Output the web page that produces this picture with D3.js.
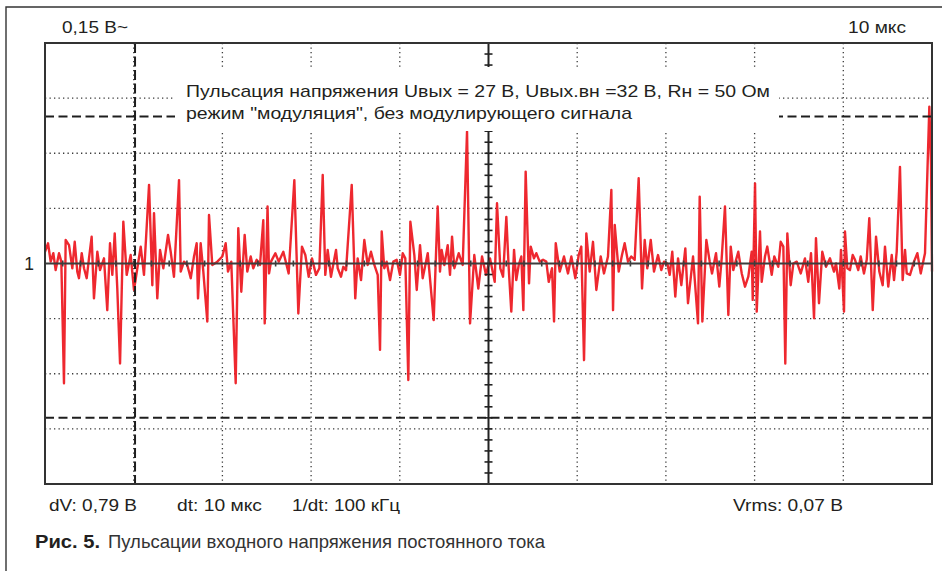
<!DOCTYPE html>
<html><head><meta charset="utf-8">
<script src="https://cdn.jsdelivr.net/npm/d3@7"></script>
<style>
body{margin:0;background:#fff}
svg{display:block}
text{font-family:"Liberation Sans",Arial,sans-serif;fill:#231f20}
</style>
</head><body>
<svg id="chart" width="942" height="571"></svg>
<script>
// ---- data ----
const timeUs = [
0,0.34,0.64,0.94,1.2,1.58,1.84,2.14,2.33,2.71,
3.08,3.35,3.64,3.83,4.14,4.4,4.7,4.96,5.26,5.52,
5.9,6.2,6.65,7.02,7.33,7.59,7.86,8.15,8.46,8.83,
9.21,9.66,10.03,10.41,10.79,11.16,11.73,12.1,12.29,12.66,
12.97,13.34,13.87,14.17,14.54,15.11,15.3,15.67,16.04,16.43,
16.8,17.1,17.25,17.55,17.85,18.3,18.49,18.86,19.43,19.99,
20.37,20.63,21.0,21.5,21.79,22.13,22.51,22.81,23.19,23.48,
23.87,24.24,24.61,24.77,25.09,25.26,25.48,25.97,26.35,26.87,
27.47,28.11,28.56,28.97,29.35,29.73,30.1,30.55,30.93,31.31,
31.6,31.87,32.24,32.81,33.0,33.37,33.63,33.94,34.58,34.98,
35.25,35.63,36.0,36.38,36.75,37.13,37.51,37.77,37.96,38.25,
38.52,38.9,39.27,39.65,40.02,40.33,40.62,40.96,41.19,41.64,
41.91,42.28,42.58,43.15,43.82,44.27,44.53,44.72,45.02,45.4,
45.66,45.89,46.15,46.64,47.09,47.58,47.92,48.4,48.85,49.27,
49.72,50.17,50.7,50.96,51.33,51.64,52.01,52.28,52.57,52.88,
53.13,53.41,53.7,53.93,54.19,54.57,54.76,55.13,55.39,55.77,
56.15,56.52,56.79,57.16,57.39,57.58,58.03,58.51,58.96,59.34,
59.79,60.17,60.46,60.77,61.03,61.41,61.78,62.16,62.65,63.02,
63.47,63.85,64.04,64.23,64.68,65.05,65.35,65.73,66.1,66.48,
66.93,67.31,67.61,67.9,68.29,68.66,69.11,69.48,69.79,70.16,
70.43,70.72,71.06,71.37,71.74,72.19,72.49,73.06,73.62,73.81,
74.11,74.56,74.94,75.2,75.65,76.02,76.29,76.66,77.04,77.31,
77.6,78.16,78.55,78.92,79.29,79.67,79.79,80.05,80.24,80.61,
80.8,81.17,81.43,81.93,82.22,82.67,82.94,83.24,83.46,83.69,
84.07,84.37,84.75,85.2,85.68,86.05,86.36,86.7,86.92,87.26,
87.63,88.05,88.5,88.95,89.18,89.55,89.74,90.08,90.19,90.45,
90.75,91.06,91.32,91.69,91.96,92.33,92.64,92.93,93.32,93.69,
94.06,94.44,94.7,95.07,95.46,95.72,96.02,96.39,96.69,96.96,
97.15,97.52,97.97,98.35,98.73,99.21,99.7,99.89,100
];
const rippleV = [
0.032,0.055,0.005,0.028,-0.018,0.028,0.005,-0.326,0.064,0.050,
-0.013,0.059,-0.022,-0.040,0.028,-0.013,-0.040,0.014,0.073,-0.095,
0.032,-0.018,0.014,-0.127,0.055,-0.031,0.082,-0.068,-0.272,0.114,
-0.031,0.023,-0.072,-0.013,0.046,-0.031,0.214,-0.059,0.137,-0.095,
0.037,-0.013,0.078,0.032,-0.036,0.227,-0.022,0.005,-0.004,-0.040,
0.019,0.055,-0.095,0.055,-0.022,-0.158,0.132,-0.004,0.005,0.019,
0.055,-0.022,0.005,-0.326,0.096,-0.077,0.078,-0.022,0.019,-0.013,
0.010,-0.004,0.118,-0.163,0.155,-0.027,0.005,0.028,0.005,0.032,
-0.027,0.227,-0.136,0.046,0.023,-0.036,0.014,-0.031,-0.013,0.241,
-0.031,0.037,-0.036,0.037,-0.013,-0.036,-0.009,-0.018,0.214,-0.095,
0.014,-0.045,0.064,-0.004,0.032,-0.004,-0.031,-0.235,0.087,-0.013,
0.005,-0.045,0.005,0.010,-0.031,0.028,0.014,-0.317,0.114,0.023,
-0.072,0.050,-0.040,0.028,-0.154,0.155,-0.022,0.037,-0.004,0.050,
-0.031,0.073,-0.013,0.028,-0.004,0.359,-0.163,0.023,-0.068,0.019,
-0.031,0.014,-0.050,0.164,-0.013,-0.036,0.127,-0.013,-0.131,0.037,
-0.045,-0.004,0.019,-0.127,0.250,-0.054,0.046,0.014,0.028,0.005,
0.010,0.005,-0.050,-0.013,-0.158,0.055,-0.022,0.019,-0.027,0.019,
-0.040,0.023,0.046,-0.263,0.082,-0.022,0.059,-0.072,0.019,-0.027,
0.019,0.200,-0.127,0.105,-0.022,0.023,0.055,0.005,0.019,0.010,
0.232,-0.068,0.064,-0.013,0.064,-0.022,0.023,-0.018,0.005,0.000,
-0.031,0.032,-0.090,0.014,-0.059,0.041,-0.108,0.019,-0.163,0.182,
-0.158,0.064,0.005,-0.027,0.028,-0.063,0.014,0.155,-0.140,0.046,
-0.018,0.032,-0.027,-0.063,-0.036,0.032,-0.099,0.218,-0.131,0.087,
-0.050,0.019,0.046,-0.031,0.019,-0.009,0.059,0.046,-0.272,0.082,
-0.059,0.000,0.005,-0.027,0.014,-0.050,0.028,-0.149,0.069,-0.108,
0.032,-0.009,0.014,-0.022,0.000,-0.068,0.037,-0.131,0.087,-0.013,
-0.018,0.023,0.010,-0.018,0.019,-0.027,0.010,0.123,-0.127,0.073,
-0.022,-0.059,0.046,-0.063,0.023,-0.045,0.032,0.263,-0.045,0.037,
-0.027,-0.031,0.005,0.028,-0.027,0.028,0.427,0.268,-0.022
];
const timeDomainUs = [0, 100];          // 10 div x 10 мкс
const voltDomain = [-0.6, 0.6];         // 8 div x 0,15 В
const timeGridUs = [10,20,30,40,60,70,80,90];
const voltGrid = [-0.45,-0.3,-0.15,0.15,0.3,0.45];
const timeMinorUs = d3.range(0, 100.001, 2);
const voltMinor = d3.range(-0.6, 0.6001, 0.03);
const cursorTimeUs = [10.15];
const cursorVolts = [0.40, -0.42];
const scaleLabels = ["0,15 В~", "10 мкс"];
const levelLabel = "1";
const noteLines = [
  "Пульсация напряжения Uвых = 27 В, Uвых.вн =32 В, Rн = 50 Ом",
  "режим \"модуляция\", без модулирующего сигнала"
];
const readouts = ["dV: 0,79 В", "dt: 10 мкс", "1/dt: 100 кГц", "Vrms: 0,07 В"];
const captionBold = "Рис. 5.";
const captionText = "Пульсации входного напряжения постоянного тока";

// ---- drawing ----
const svg = d3.select("#chart");
const P = {l:45, t:43, r:932, b:484};
const x = d3.scaleLinear().domain(timeDomainUs).range([P.l, P.r]);
const y = d3.scaleLinear().domain(voltDomain).range([P.b, P.t]);

svg.append("rect").attr("width",942).attr("height",571).attr("fill","#fff");

// outer frame (left + top)
svg.append("path").attr("d","M6,571 V7 H942").attr("fill","none")
  .attr("stroke","#333").attr("stroke-width",1.4);

// dotted grid
const grid = svg.append("g").attr("stroke","#3a3a3a").attr("stroke-width",1.3)
  .attr("stroke-dasharray","1.3,3.2");
grid.selectAll("line.v").data(timeGridUs).join("line").attr("class","v")
  .attr("x1",d=>x(d)).attr("x2",d=>x(d)).attr("y1",P.t).attr("y2",P.b);
grid.selectAll("line.h").data(voltGrid).join("line").attr("class","h")
  .attr("x1",P.l).attr("x2",P.r).attr("y1",d=>y(d)).attr("y2",d=>y(d));

// trace
const pts = timeUs.map((t,i)=>[t, rippleV[i]]).filter(p=>p[1]!==undefined);
svg.append("path").datum(pts)
  .attr("d", d3.line().x(d=>x(d[0])).y(d=>y(d[1])))
  .attr("fill","none").attr("stroke","#ed1c24").attr("stroke-width",2.4)
  .attr("stroke-linejoin","round").attr("stroke-opacity",0.95);

// centre axes with minor ticks
const ax = svg.append("g").attr("stroke","#3d3d3d");
ax.append("line").attr("x1",P.l).attr("x2",P.r).attr("y1",y(0)).attr("y2",y(0)).attr("stroke-width",2);
ax.append("line").attr("x1",x(50)).attr("x2",x(50)).attr("y1",P.t).attr("y2",P.b).attr("stroke-width",2).attr("stroke","#222");
ax.selectAll("line.tx").data(timeMinorUs).join("line").attr("class","tx")
  .attr("x1",d=>x(d)).attr("x2",d=>x(d)).attr("y1",y(0)-3).attr("y2",y(0)+3).attr("stroke-width",1.6);
ax.selectAll("line.ty").data(voltMinor).join("line").attr("class","ty")
  .attr("x1",x(50)-4).attr("x2",x(50)+4).attr("y1",d=>y(d)).attr("y2",d=>y(d)).attr("stroke-width",1.6).attr("stroke","#222");

// cursors
const cur = svg.append("g").attr("stroke","#1e1e1e").attr("stroke-width",2);
cur.selectAll("line.cv").data(cursorTimeUs).join("line").attr("class","cv")
  .attr("x1",d=>x(d)).attr("x2",d=>x(d)).attr("y1",P.t).attr("y2",P.b)
  .attr("stroke-dasharray","10,3.5");
cur.selectAll("line.ch").data(cursorVolts).join("line").attr("class","ch")
  .attr("x1",P.l).attr("x2",P.r).attr("y1",d=>y(d)).attr("y2",d=>y(d))
  .attr("stroke-dasharray","9,4.5");

// note box
const noteW = [584, 446];
svg.append("rect").attr("x",175).attr("y",67).attr("width",604).attr("height",64).attr("fill","#fff");
svg.selectAll("text.note").data(noteLines).join("text").attr("class","note")
  .attr("x",186).attr("y",(d,i)=>96.5+i*22.5).attr("font-size",17)
  .attr("textLength",(d,i)=>noteW[i]).attr("lengthAdjust","spacingAndGlyphs").text(d=>d);

// plot border
svg.append("rect").attr("x",P.l).attr("y",P.t).attr("width",P.r-P.l).attr("height",P.b-P.t)
  .attr("fill","none").attr("stroke","#333").attr("stroke-width",2);

// scale labels
svg.append("text").attr("x",62).attr("y",33).attr("font-size",17)
  .attr("textLength",66).attr("lengthAdjust","spacingAndGlyphs").text(scaleLabels[0]);
svg.append("text").attr("x",848).attr("y",33).attr("font-size",17)
  .attr("textLength",58).attr("lengthAdjust","spacingAndGlyphs").text(scaleLabels[1]);
svg.append("text").attr("x",34).attr("y",y(0)+6).attr("text-anchor","end").attr("font-size",17.5).text(levelLabel);

// readouts
const readX = [49,177,292,733];
const readW = [88,85,108,110];
svg.selectAll("text.ro").data(readouts).join("text").attr("class","ro")
  .attr("x",(d,i)=>readX[i]).attr("y",510.5).attr("font-size",17)
  .attr("textLength",(d,i)=>readW[i]).attr("lengthAdjust","spacingAndGlyphs").text(d=>d);

// caption
svg.append("text").attr("x",35).attr("y",548).attr("font-size",18.5)
  .attr("font-family","Roboto, 'Liberation Sans', sans-serif").attr("font-weight",900)
  .attr("textLength",65).attr("lengthAdjust","spacingAndGlyphs").text(captionBold);
svg.append("text").attr("x",108).attr("y",548).attr("font-size",18.5)
  .attr("font-family","Roboto, 'Liberation Sans', sans-serif").style("fill","#333")
  .attr("textLength",437).attr("lengthAdjust","spacingAndGlyphs").text(captionText);
</script>
</body></html>
